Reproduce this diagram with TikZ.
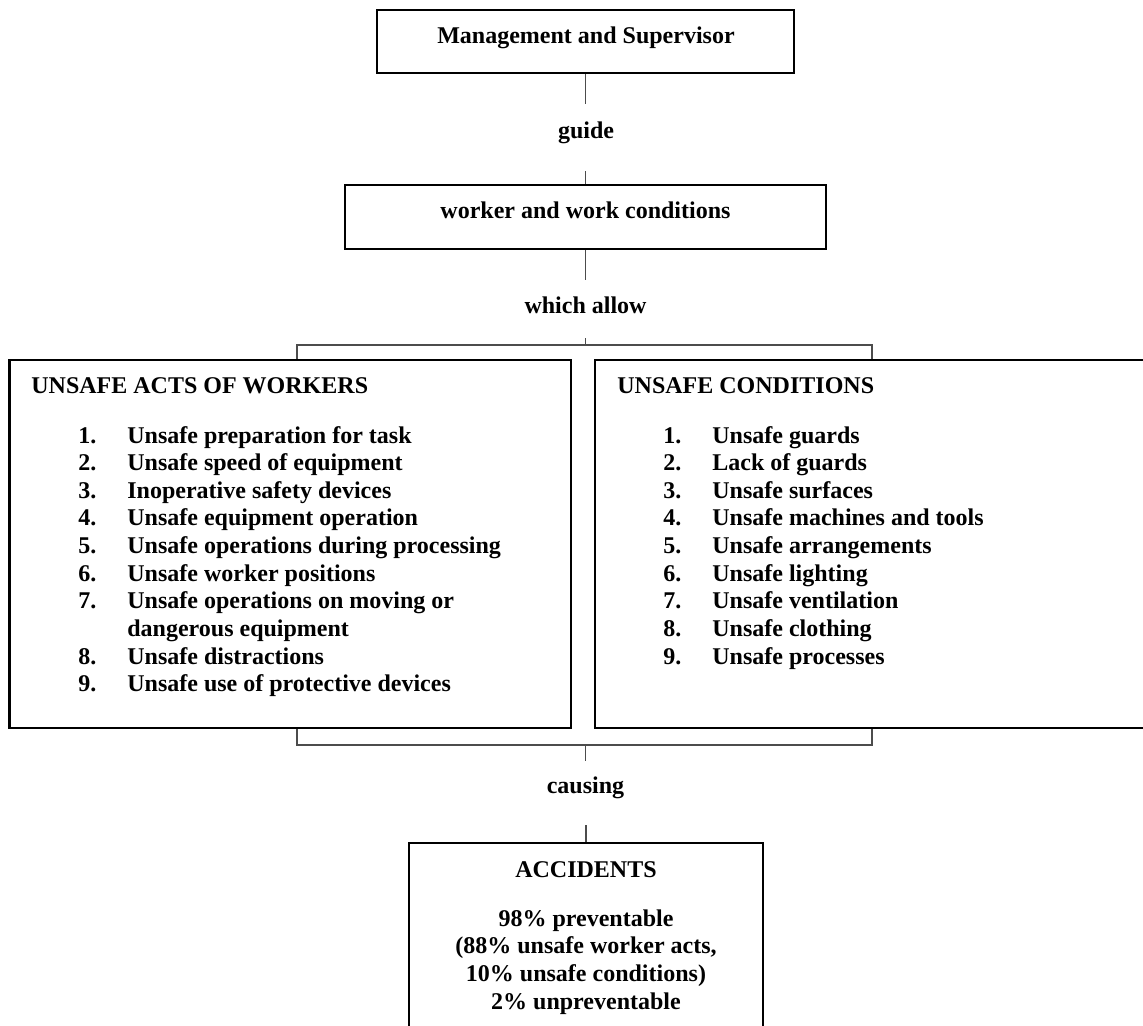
\documentclass[tikz,border=0pt]{standalone}
\usepackage{fontspec}
\setmainfont{Liberation Serif}
\begin{document}
\begin{tikzpicture}[x=0.5pt,y=-0.5pt,
  box/.style={draw=black, line width=1.1pt, rectangle, inner sep=0pt},
  conn/.style={draw=black!70, line width=0.6pt},
  txt/.style={inner sep=0pt, font=\fontsize{12}{13.83}\selectfont\bfseries},
]
\useasboundingbox (0,0) rectangle (1143,1025);
\clip (0,0) rectangle (1143,1025);
\fill[white] (0,0) rectangle (1143,1025);

% boxes
\node[box, minimum width=208.5pt, minimum height=31.75pt] (mgmt) at (585.5,41.5) {};
\node[box, minimum width=240.5pt, minimum height=32pt] (work) at (585.5,217) {};
\node[box, minimum width=280.75pt, minimum height=184pt] (acts) at (290.25,544) {};
\node[box, minimum width=282.5pt, minimum height=184pt] (cond) at (877.5,544) {};
\node[box, minimum width=177pt, minimum height=108.5pt] (acc) at (586,951.5) {};

% box texts
\node[txt, anchor=base] (mgmtT) at (586,43) {Management and Supervisor};
\node[txt, anchor=base] (workT) at (585.5,218) {worker and work conditions};

\node[txt, anchor=base west] (actsT) at (31,393) {UNSAFE ACTS OF WORKERS};
\node[txt, anchor=base west] (actsL) at (78,443) {\begin{tabular}[t]{@{}p{24.5pt}@{}l@{}}
1.&Unsafe preparation for task\\
2.&Unsafe speed of equipment\\
3.&Inoperative safety devices\\
4.&Unsafe equipment operation\\
5.&Unsafe operations during processing\\
6.&Unsafe worker positions\\
7.&Unsafe operations on moving or\\
  &dangerous equipment\\
8.&Unsafe distractions\\
9.&Unsafe use of protective devices
\end{tabular}};

\node[txt, anchor=base west] (condT) at (617,393) {UNSAFE CONDITIONS};
\node[txt, anchor=base west] (condL) at (663,443) {\begin{tabular}[t]{@{}p{24.5pt}@{}l@{}}
1.&Unsafe guards\\
2.&Lack of guards\\
3.&Unsafe surfaces\\
4.&Unsafe machines and tools\\
5.&Unsafe arrangements\\
6.&Unsafe lighting\\
7.&Unsafe ventilation\\
8.&Unsafe clothing\\
9.&Unsafe processes
\end{tabular}};

\node[txt, anchor=base] (accT) at (586,877) {ACCIDENTS};
\node[txt, anchor=base] (accL) at (586,926) {\begin{tabular}[t]{@{}c@{}}
98\% preventable\\
(88\% unsafe worker acts,\\
10\% unsafe conditions)\\
2\% unpreventable
\end{tabular}};

% connector labels
\node[txt, anchor=base] (guide) at (586,138) {guide};
\node[txt, anchor=base] (allow) at (585.5,313) {which allow};
\node[txt, anchor=base] (causing) at (585.5,793) {causing};

% coordinates
\coordinate (g1) at (585.5,104);
\coordinate (g2) at (585.5,171);
\coordinate (w1) at (585.5,280);
\coordinate (w2) at (585.5,338);
\coordinate (w3) at (585.5,345);
\coordinate (bl) at (297,345);
\coordinate (br) at (872,345);
\coordinate (cl) at (297,745);
\coordinate (cr) at (872,745);
\coordinate (c0) at (585.5,745);
\coordinate (c1) at (585.5,761);
\coordinate (c2) at (586,825);

% connectors
\draw[conn] (mgmt.south) -- (g1);
\draw[conn] (g2) -- (work.north);
\draw[conn] (work.south) -- (w1);
\draw[conn] (w2) -- (w3);
\draw[conn] (bl |- acts.north) -- (bl) -- (br) -- (br |- cond.north);
\draw[conn] (cl |- acts.south) -- (cl) -- (cr) -- (cr |- cond.south);
\draw[conn] (c0) -- (c1);
\draw[conn] (c2) -- (acc.north);
\end{tikzpicture}
\end{document}
